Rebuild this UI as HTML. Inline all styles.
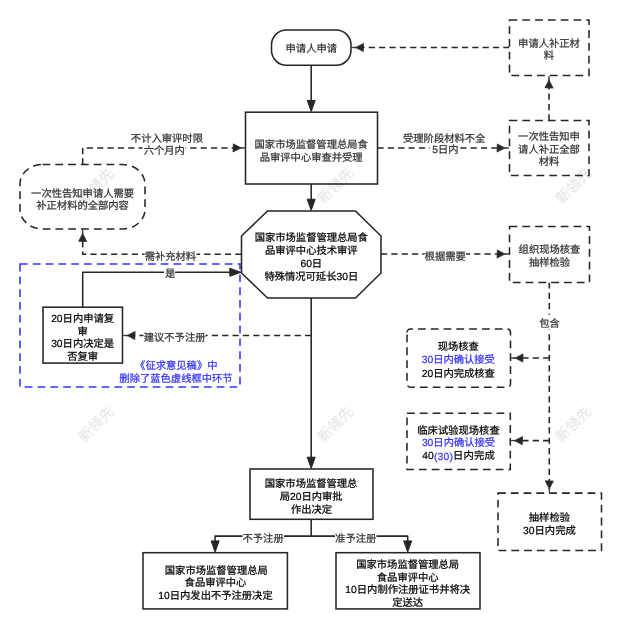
<!DOCTYPE html>
<html lang="zh-CN">
<head>
<meta charset="utf-8">
<title>流程图</title>
<style>
html,body{margin:0;padding:0;background:#fff;}
body{width:621px;height:631px;overflow:hidden;position:relative;font-family:"Liberation Sans",sans-serif;}
svg{position:absolute;left:0;top:0;display:block;}
svg text{text-rendering:geometricPrecision;font-family:"Liberation Sans",sans-serif;font-size:10.3px;text-anchor:middle;dominant-baseline:central;}
.g{fill:#333;stroke:#333;stroke-width:0.22;}
.k{fill:#000;stroke:#000;stroke-width:0.22;}
.b{fill:#3333ff;stroke:#3333ff;stroke-width:0.22;}
.wm{fill:#000;fill-opacity:0.07;font-size:14.4px;stroke:#000;stroke-opacity:0.07;stroke-width:0.5;}
.s{stroke:#262626;stroke-width:1.55;fill:#fff;}
.d{stroke:#262626;stroke-width:1.55;fill:#fff;stroke-dasharray:7.8 5;}
.l{stroke:#262626;stroke-width:1.55;fill:none;stroke-linejoin:round;}
.ld{stroke:#262626;stroke-width:1.55;fill:none;stroke-dasharray:6.2 4.15;}
.a{fill:#262626;stroke:#262626;stroke-width:1;stroke-linejoin:miter;}
.ad{fill:#262626;stroke:#262626;stroke-width:0.7;stroke-linejoin:round;}
.bg{fill:#fff;}
</style>
</head>
<body>
<svg style="will-change:transform" width="621" height="631" viewBox="0 0 621 631">

<!-- blue dashed frame -->
<rect x="20" y="264" width="220" height="122.9" fill="none" stroke="#3333ff" stroke-width="1.55" stroke-dasharray="7.7 5.1"/>

<!-- connectors: solid -->
<path class="l" d="M311.2 65.5V101"/>
<path class="l" d="M311.2 184V200"/>
<path class="l" d="M311.2 298V458"/>
<path class="l" d="M311.2 519.3V536.1M215.1 542V536.1H407.7V542"/>
<path class="l" d="M82.7 307V272.3H231"/>
<!-- connectors: dashed -->
<path class="ld" d="M311.2 335.5H134"/>
<path class="ld" d="M241.5 254.2H82.7V240"/>
<path class="ld" d="M82.7 164.5V147.9H234"/>
<path class="ld" d="M377.5 148H498"/>
<path class="ld" d="M549 120.5V87"/>
<path class="ld" d="M509.5 47.5H363"/>
<path class="ld" d="M381 254H498"/>
<path class="ld" d="M549.3 282.4V481.5"/>
<path class="ld" d="M549.3 358H522"/>
<path class="ld" d="M549.3 440.6H522"/>

<!-- arrowheads -->
<g class="a">
<path d="M311.2 111.6l-4 -11.2h8z"/>
<path d="M311.2 210.4l-4 -11.2h8z"/>
<path d="M311.2 468.4l-4 -11.2h8z"/>
<path d="M215.1 552.1l-4 -11.2h8z"/>
<path d="M407.7 552.1l-4 -11.2h8z"/>
<path d="M241 272.3l-11.2 -4v8z"/>
</g>
<g class="ad">
<path transform="translate(123.1,335.5) rotate(180)" d="M0 0L-5 -0.55L-11.7 -4.1L-12 4.1L-5 0.55Z"/>
<path transform="translate(82.7,229.6) rotate(-90)" d="M0 0L-5 -0.55L-11.7 -4.1L-12 4.1L-5 0.55Z"/>
<path transform="translate(245,147.9) rotate(0)" d="M0 0L-5 -0.55L-11.7 -4.1L-12 4.1L-5 0.55Z"/>
<path transform="translate(509,148) rotate(0)" d="M0 0L-5 -0.55L-11.7 -4.1L-12 4.1L-5 0.55Z"/>
<path transform="translate(549,76.1) rotate(-90)" d="M0 0L-5 -0.55L-11.7 -4.1L-12 4.1L-5 0.55Z"/>
<path transform="translate(351.6,47.5) rotate(180)" d="M0 0L-5 -0.55L-11.7 -4.1L-12 4.1L-5 0.55Z"/>
<path transform="translate(509,254) rotate(0)" d="M0 0L-5 -0.55L-11.7 -4.1L-12 4.1L-5 0.55Z"/>
<path transform="translate(549.3,492.8) rotate(90)" d="M0 0L-5 -0.55L-11.7 -4.1L-12 4.1L-5 0.55Z"/>
<path transform="translate(511.1,358) rotate(180)" d="M0 0L-5 -0.55L-11.7 -4.1L-12 4.1L-5 0.55Z"/>
<path transform="translate(510.6,440.6) rotate(180)" d="M0 0L-5 -0.55L-11.7 -4.1L-12 4.1L-5 0.55Z"/>
</g>

<!-- shapes -->
<rect class="s" x="271.5" y="30" width="79.5" height="35.3" rx="15" ry="15"/>
<rect class="s" x="245.5" y="112.2" width="132" height="71.8"/>
<polygon class="s" points="267.5,211 355.5,211 381,236 381,273 355.5,298 267.5,298 241.5,273 241.5,236"/>
<rect class="d" x="20" y="164.5" width="125" height="64.5" rx="22.5" ry="19.5"/>
<rect class="s" x="43" y="307.2" width="79.5" height="55.9"/>
<rect class="d" x="509.5" y="20" width="79.5" height="55.5"/>
<rect class="d" x="509.5" y="120.5" width="79.5" height="55"/>
<rect class="d" x="509.5" y="226.5" width="80" height="55.9"/>
<path class="d" d="M407 332.5A3.5 3.5 0 0 1 410.5 329H507A3.5 3.5 0 0 1 510.5 332.5V383.8A3.5 3.5 0 0 1 507 387.3H410.5A3.5 3.5 0 0 1 407 383.8Z"/>
<rect class="d" x="407" y="413.2" width="103.3" height="56.3"/>
<rect class="d" x="498" y="493.1" width="103.5" height="57.3"/>
<rect class="s" x="250" y="469" width="123" height="50.3"/>
<rect class="s" x="143" y="552.7" width="144.4" height="56.2"/>
<rect class="s" x="336" y="552.7" width="144" height="56.2"/>

<!-- edge labels -->
<rect class="bg" x="142.5" y="143.5" width="43" height="12"/>
<text class="g" x="166.9" y="139.25">不计入审评时限</text>
<text class="g" x="164.3" y="151.65">六个月内</text>
<rect class="bg" x="144.5" y="250" width="52" height="12"/>
<text class="g" x="170.4" y="257.65">需补充材料</text>
<rect class="bg" x="164" y="267" width="11" height="12"/>
<text class="g" x="170.2" y="274.65">是</text>
<rect class="bg" x="143.5" y="330" width="62" height="13"/>
<text class="g" x="174.6" y="338.65">建议不予注册</text>
<rect class="bg" x="429.8" y="143.5" width="29.6" height="11"/>
<text class="g" x="444.2" y="139.3">受理阶段材料不全</text>
<text class="g" x="445.4" y="150.65">5日内</text>
<rect class="bg" x="424.5" y="249" width="41.5" height="12"/>
<text class="g" x="445.2" y="257.05">根据需要</text>
<rect class="bg" x="539" y="314.6" width="21" height="14.9"/>
<text class="g" x="549.5" y="324.95">包含</text>
<rect class="bg" x="242.5" y="531" width="41.5" height="12"/>
<text class="g" x="263.1" y="539.25">不予注册</text>
<rect class="bg" x="335" y="531" width="41.5" height="12"/>
<text class="g" x="355.7" y="539.25">准予注册</text>

<!-- box texts -->
<text class="g" x="311.3" y="49.9">申请人申请</text>
<text class="g" x="311.2" y="145.45">国家市场监督管理总局食</text>
<text class="g" x="311.2" y="158.35">品审评中心审查并受理</text>
<text class="k" x="311.3" y="238.25">国家市场监督管理总局食</text>
<text class="k" x="311.3" y="251.25">品审评中心技术审评</text>
<text class="k" x="311.3" y="264.15">60日</text>
<text class="k" x="311.3" y="277.15">特殊情况可延长30日</text>
<text class="g" x="82.6" y="194.25">一次性告知申请人需要</text>
<text class="g" x="82.6" y="206.65">补正材料的全部内容</text>
<text class="k" x="82.6" y="319.45">20日内申请复</text>
<text class="k" x="82.6" y="332.15">审</text>
<text class="k" x="82.6" y="344.85">30日内决定是</text>
<text class="k" x="82.6" y="357.45">否复审</text>
<text class="b" x="176.3" y="366.05">《征求意见稿》中</text>
<text class="b" x="176" y="379.05">删除了蓝色虚线框中环节</text>
<text class="g" x="549" y="44.35">申请人补正材</text>
<text class="g" x="549" y="56.35">料</text>
<text class="g" x="549" y="137.45">一次性告知申</text>
<text class="g" x="549" y="150.05">请人补正全部</text>
<text class="g" x="549" y="162.65">材料</text>
<text class="g" x="549.5" y="250.6">组织现场核查</text>
<text class="g" x="549.5" y="263.6">抽样检验</text>
<text class="k" x="458.3" y="347.95">现场核查</text>
<text class="b" x="458.3" y="360.95">30日内确认接受</text>
<text class="k" x="458.3" y="374.15">20日内完成核查</text>
<text class="k" x="458.5" y="431.15">临床试验现场核查</text>
<text class="b" x="458.5" y="443.65">30日内确认接受</text>
<text class="k" x="458.5" y="456.65" textLength="72.7">40<tspan class="b">(30)</tspan>日内完成</text>
<text class="k" x="549.4" y="518.65">抽样检验</text>
<text class="k" x="549.4" y="531.65">30日内完成</text>
<text class="k" x="311.1" y="484.85">国家市场监督管理总</text>
<text class="k" x="311.1" y="497.25">局20日内审批</text>
<text class="k" x="311.5" y="510.05">作出决定</text>
<text class="k" x="216.3" y="571.35">国家市场监督管理总局</text>
<text class="k" x="215.5" y="583.95">食品审评中心</text>
<text class="k" x="215.5" y="596.65">10日内发出不予注册决定</text>
<text class="k" x="407.7" y="565.45">国家市场监督管理总局</text>
<text class="k" x="407.7" y="578.15">食品审评中心</text>
<text class="k" x="407.7" y="590.85">10日内制作注册证书并将决</text>
<text class="k" x="407.7" y="603.65">定送达</text>
<!-- watermarks -->
<g class="wm">
<text transform="translate(96.8,187) rotate(-45)" class="wm">新领先</text>
<text transform="translate(336,186.5) rotate(-45)" class="wm">新领先</text>
<text transform="translate(574.5,186.5) rotate(-45)" class="wm">新领先</text>
<text transform="translate(96.8,425) rotate(-45)" class="wm">新领先</text>
<text transform="translate(336,425) rotate(-45)" class="wm">新领先</text>
<text transform="translate(574,425) rotate(-45)" class="wm">新领先</text>
</g>
</svg>
</body>
</html>
